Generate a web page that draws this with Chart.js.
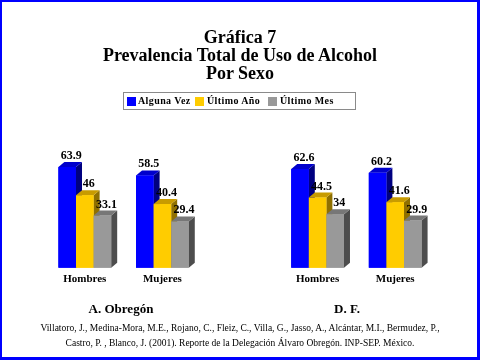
<!DOCTYPE html>
<html>
<head>
<meta charset="utf-8">
<script src="https://cdn.jsdelivr.net/npm/chart.js@4/dist/chart.umd.min.js"></script>
<style>
  html, body { margin: 0; padding: 0; background: #fff; }
  #wrap { position: relative; width: 480px; height: 360px; overflow: hidden; font-family: 'Liberation Serif', 'DejaVu Serif', serif; color: #000; }
  #c { position: absolute; left: 0; top: 0; }
  .frame { position: absolute; left: 0; top: 0; width: 480px; height: 360px; box-sizing: border-box; border-style: solid; border-color: #0000ff; border-width: 2px 3px 3px 2px; pointer-events: none; }
  .title { position: absolute; left: 0; top: 28px; width: 480px; text-align: center; font-weight: bold; font-size: 18px; line-height: 18px; }
  .legend { position: absolute; left: 123px; top: 92px; width: 231px; height: 16px; border: 1px solid #8a8a8a; }
  .sw { position: absolute; top: 4px; width: 9px; height: 9px; }
  .lt { position: absolute; top: 1px; font-weight: bold; font-size: 10px; line-height: 14px; letter-spacing: 0.4px; white-space: nowrap; }
  .panel { position: absolute; top: 301px; width: 160px; text-align: center; font-weight: bold; font-size: 13px; line-height: 16px; }
  .foot { position: absolute; left: 0; top: 321px; width: 480px; text-align: center; font-size: 9.5px; line-height: 15px; }
</style>
</head>
<body>
<div id="wrap">
  <canvas id="c" width="480" height="360"></canvas>
  <div class="title">Gráfica 7<br>Prevalencia Total de Uso de Alcohol<br>Por Sexo</div>
  <div class="legend">
    <div class="sw" style="left:3px;background:#0000ff"></div><div class="lt" style="left:14px">Alguna Vez</div>
    <div class="sw" style="left:71px;background:#ffcc00"></div><div class="lt" style="left:83px">Último Año</div>
    <div class="sw" style="left:144px;background:#999999"></div><div class="lt" style="left:156px">Último Mes</div>
  </div>
  <div class="panel" style="left:41px">A. Obregón</div>
  <div class="panel" style="left:267px">D. F.</div>
  <div class="foot">Villatoro, J., Medina-Mora, M.E., Rojano, C., Fleiz, C., Villa, G., Jasso, A., Alcántar, M.I., Bermudez, P.,<br>Castro, P. , Blanco, J. (2001). Reporte de la Delegación Álvaro Obregón. INP-SEP. México.</div>
  <div class="frame"></div>
</div>
<script>
const categories = ['Hombres', 'Mujeres', '', 'Hombres', 'Mujeres'];
const seriesNames = ['Alguna Vez', 'Último Año', 'Último Mes'];
const algunaVez = [63.9, 58.5, null, 62.6, 60.2];
const ultimoAnio = [46, 40.4, null, 44.5, 41.6];
const ultimoMes = [33.1, 29.4, null, 34, 29.9];
const labelTexts = [
  ['63.9', '58.5', '', '62.6', '60.2'],
  ['46', '40.4', '', '44.5', '41.6'],
  ['33.1', '29.4', '', '34', '29.9']
];

const faces = [
  { front: '#0000ff', top: '#0000cc', side: '#000080' },
  { front: '#ffcc00', top: '#c89b00', side: '#8f7000' },
  { front: '#999999', top: '#777777', side: '#4d4d4d' }
];
const DX = 6, DY = 5;

const bar3d = {
  id: 'bar3d',
  afterDatasetsDraw(chart) {
    const ctx = chart.ctx;
    const n = chart.data.labels.length;
    ctx.save();
    for (let i = 0; i < n; i++) {
      for (let d = 0; d < chart.data.datasets.length; d++) {
        const v = chart.data.datasets[d].data[i];
        if (v === null || v === undefined) continue;
        const el = chart.getDatasetMeta(d).data[i];
        const w = el.width, l = el.x - w / 2, r = el.x + w / 2, y = el.y, b = el.base;
        const f = faces[d];
        ctx.fillStyle = f.side;
        ctx.beginPath();
        ctx.moveTo(r, y); ctx.lineTo(r + DX, y - DY); ctx.lineTo(r + DX, b - DY); ctx.lineTo(r, b);
        ctx.closePath(); ctx.fill();
        ctx.fillStyle = f.top;
        ctx.beginPath();
        ctx.moveTo(l, y); ctx.lineTo(l + DX, y - DY); ctx.lineTo(r + DX, y - DY); ctx.lineTo(r, y);
        ctx.closePath(); ctx.fill();
        ctx.fillStyle = f.front;
        ctx.fillRect(l, y, w, b - y);
      }
      ctx.fillStyle = '#000';
      ctx.font = "bold 12px 'Liberation Serif'";
      ctx.textAlign = 'center';
      ctx.textBaseline = 'alphabetic';
      for (let d = 0; d < chart.data.datasets.length; d++) {
        const v = chart.data.datasets[d].data[i];
        if (v === null || v === undefined) continue;
        const el = chart.getDatasetMeta(d).data[i];
        ctx.fillText(labelTexts[d][i], el.x + DX / 2 + 1, el.y - DY - 3);
      }
    }
    ctx.restore();
  }
};

new Chart(document.getElementById('c'), {
  type: 'bar',
  data: {
    labels: categories,
    datasets: [
      { label: seriesNames[0], data: algunaVez, backgroundColor: faces[0].front },
      { label: seriesNames[1], data: ultimoAnio, backgroundColor: faces[1].front },
      { label: seriesNames[2], data: ultimoMes, backgroundColor: faces[2].front }
    ]
  },
  options: {
    responsive: false,
    animation: false,
    devicePixelRatio: 1,
    layout: { padding: { left: 46, right: 46, top: 110, bottom: 69 } },
    plugins: { legend: { display: false }, title: { display: false }, tooltip: { enabled: false } },
    datasets: { bar: { categoryPercentage: 0.68, barPercentage: 1 } },
    scales: {
      x: {
        grid: { display: false, drawTicks: false },
        border: { display: false },
        ticks: { color: '#000', font: { family: "'Liberation Serif'", size: 11, weight: 'bold' }, padding: 5, maxRotation: 0, autoSkip: false }
      },
      y: { display: false, min: 0, max: 100 }
    }
  },
  plugins: [bar3d]
});
</script>
</body>
</html>
